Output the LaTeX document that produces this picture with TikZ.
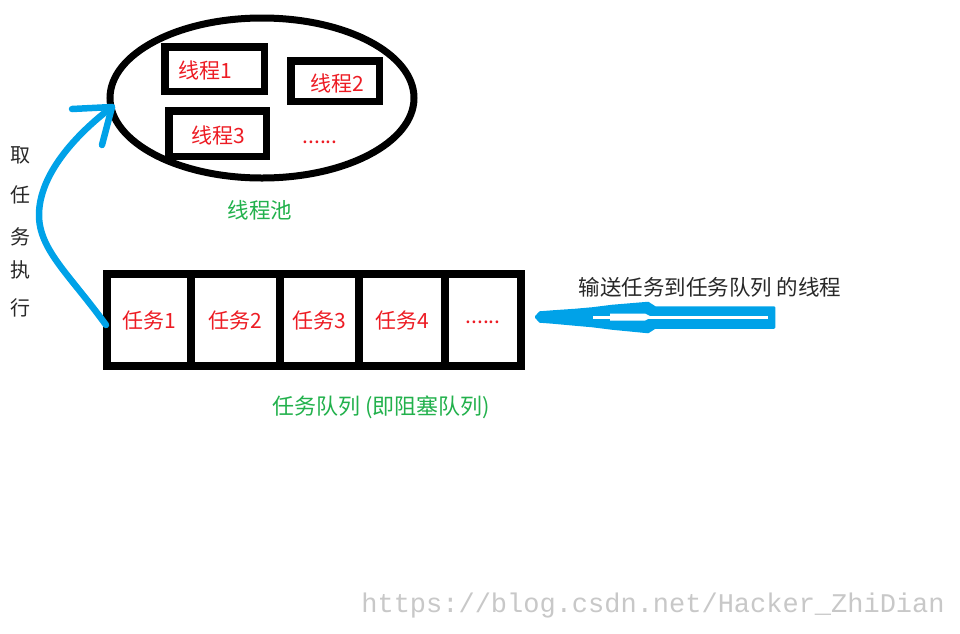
\documentclass[tikz,border=0pt]{standalone}
\usepackage{fontspec}
\usetikzlibrary{shapes.geometric}
\newfontfamily\cjk{Noto Sans CJK SC}
\newfontfamily\wmfont{Liberation Mono}
\definecolor{pred}{RGB}{237,28,36}
\definecolor{pgreen}{RGB}{34,177,76}
\definecolor{pblue}{RGB}{0,162,232}
\definecolor{dtext}{RGB}{40,40,40}
\definecolor{wmgray}{RGB}{200,200,200}
\begin{document}
\begin{tikzpicture}[x=1pt,y=-1pt,
  threadbox/.style={draw, line width=7.5pt, inner sep=0pt},
  cell/.style={draw, line width=8pt, minimum height=92pt, inner sep=0pt, font=\cjk\fontsize{21}{21}\selectfont, text=pred},
  redlbl/.style={font=\cjk\fontsize{21}{21}\selectfont, text=pred, inner sep=0pt},
  greenlbl/.style={font=\cjk\fontsize{21.5}{21.5}\selectfont, text=pgreen, inner sep=0pt},
  vchar/.style={font=\cjk\fontsize{20}{20}\selectfont, text=dtext, inner sep=0pt},
  blueline/.style={draw=pblue, line width=6.5pt, line cap=round, line join=round}
]
\useasboundingbox (0,0) rectangle (960,633);
\fill[white] (0,0) rectangle (960,633);

% thread pool
\node[draw, ellipse, line width=7pt, minimum width=304pt, minimum height=160pt, inner sep=0pt] (pool) at (262,98) {};
\node[threadbox, minimum width=99.5pt, minimum height=44.5pt] (t1) at (214.5,69) {};
\node[threadbox, minimum width=88.5pt, minimum height=40.5pt] (t2) at (335,81) {};
\node[threadbox, minimum width=97.5pt, minimum height=45.5pt] (t3) at (217.5,133.5) {};
\node[redlbl] (t1l) at (205,70) {线程1};
\node[redlbl] (t2l) at (337,83) {线程2};
\node[redlbl] (t3l) at (218,135) {线程3};
\node[redlbl, anchor=base] (tdots) at (320,143) {......};
\node[greenlbl] (poollbl) at (260,210) {线程池};

% task queue
\node[cell, minimum width=84pt] (q1) at (149,320) {任务1};
\node[cell, minimum width=89pt] (q2) at (235.5,320) {任务2};
\node[cell, minimum width=79pt] (q3) at (319.5,320) {任务3};
\node[cell, minimum width=86pt] (q4) at (402,320) {任务4};
\node[cell, minimum width=76pt] (q5) at (483,320) {};
\node[redlbl, anchor=base] (qdots) at (483,323.5) {......};
\node[greenlbl, font=\cjk\fontsize{22}{22}\selectfont] (qlbl) at (381,407) {任务队列 (即阻塞队列)};

% vertical text
\node[vchar] (v1) at (20,155) {取};
\node[vchar] (v2) at (20,195) {任};
\node[vchar] (v3) at (20,237) {务};
\node[vchar] (v4) at (20,270) {执};
\node[vchar] (v5) at (20,308) {行};

% curved arrow: take task and execute
\coordinate (cstart) at (106,325);
\coordinate (ctip) at (112,107);
\coordinate (barbA) at (72,109);
\coordinate (barbB) at (102,145);
\draw[blueline] (cstart) .. controls (70,275) and (39,250) .. (39,215) .. controls (39,175) and (75,135) .. (ctip);
\draw[blueline] (barbA) -- (ctip) -- (barbB);

% right arrow into queue
\coordinate (rtip) at (536,317);
\fill[pblue, draw=pblue, line width=2.5pt, line join=round] (rtip) -- (540,312.5) -- (553,311.5) -- (575,310) -- (592,308.5) -- (612,306) -- (648,303) -- (655,307.5) -- (774,307.5) -- (774,327.5) -- (655,327.5) -- (648,332) -- (612,328.5) -- (592,326) -- (575,324.5) -- (553,322.5) -- (540,321.5) -- cycle;
\draw[white, line width=3pt] (593,317) -- (768,317);
\fill[white] (610,313.5) -- (645,313.5) -- (652,317) -- (645,320.5) -- (610,320.5) -- cycle;
\node[vchar, font=\cjk\fontsize{21.5}{21.5}\selectfont] (rlbl) at (710,287) {输送任务到任务队列 的线程};

% watermark
\node[inner sep=0pt, text=wmgray, font=\wmfont\fontsize{27}{27}\selectfont] (wm) at (653,606) {https://blog.csdn.net/Hacker\_ZhiDian};
\end{tikzpicture}
\end{document}
